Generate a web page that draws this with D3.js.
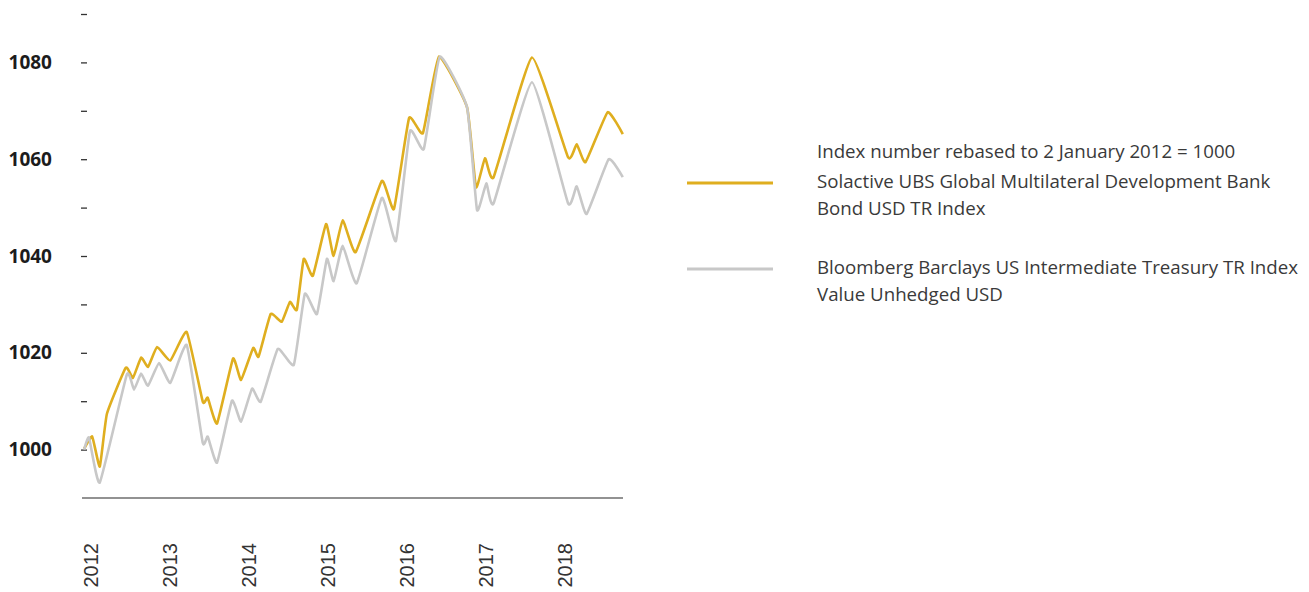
<!DOCTYPE html>
<html>
<head>
<meta charset="utf-8">
<script src="https://cdn.jsdelivr.net/npm/d3@7"></script>
<style>
	body { margin: 0; background: #fff; }
	svg { display: block; }
	.y-axis text { font-family: "Open Sans", sans-serif; font-weight: bold; font-size: 19px; fill: #1c1c1c; }
	.x-axis text { font-family: "Liberation Sans", Arial, sans-serif; font-size: 20px; fill: #333; }
	.legend text { font-family: "Open Sans", sans-serif; font-size: 18.7px; fill: #3a3a3a; }
</style>
</head>
<body>
<svg width="1309" height="592"></svg>
<script>
'use strict';

// Solactive UBS Global Multilateral Development Bank Bond USD TR Index
var goldDates = ['2012-01-02', '2012-02-08', '2012-03-14', '2012-04-16', '2012-07-12', '2012-08-14',
	'2012-09-21', '2012-10-23', '2012-12-04', '2013-02-03', '2013-04-20', '2013-07-03', '2013-07-26',
	'2013-09-07', '2013-11-20', '2013-12-27', '2014-02-21', '2014-03-18', '2014-05-13', '2014-07-03',
	'2014-08-10', '2014-09-11', '2014-10-13', '2014-11-24', '2015-01-24', '2015-02-28', '2015-04-11',
	'2015-06-10', '2015-10-09', '2015-12-04', '2016-02-12', '2016-04-16', '2016-06-29', '2016-11-06',
	'2016-12-17', '2017-01-28', '2017-03-09', '2017-09-02', '2018-02-16', '2018-03-28', '2018-05-08',
	'2018-08-18', '2018-10-27'];
var goldValues = [1000.2, 1002.7, 996.5, 1007.4, 1016.9, 1014.8,
	1019.0, 1017.1, 1021.2, 1018.4, 1024.3, 1009.9, 1010.7,
	1005.4, 1018.8, 1014.4, 1021.0, 1019.2, 1028.0, 1026.4,
	1030.5, 1028.9, 1039.4, 1035.9, 1046.6, 1040.0, 1047.4,
	1040.8, 1055.5, 1049.7, 1068.5, 1065.4, 1081.2, 1070.7,
	1054.2, 1060.2, 1056.3, 1081.0, 1060.4, 1063.1, 1059.4,
	1069.7, 1065.2];

// Bloomberg Barclays US Intermediate Treasury TR Index Value Unhedged USD
var grayDates = ['2012-01-02', '2012-01-24', '2012-03-14', '2012-07-17', '2012-08-19', '2012-09-21',
	'2012-10-23', '2012-12-13', '2013-02-03', '2013-04-20', '2013-07-03', '2013-07-26', '2013-09-07',
	'2013-11-15', '2013-12-27', '2014-02-16', '2014-03-28', '2014-06-15', '2014-08-28', '2014-10-18',
	'2014-12-13', '2015-01-28', '2015-02-28', '2015-04-11', '2015-06-15', '2015-10-09', '2015-12-13',
	'2016-02-16', '2016-04-20', '2016-07-03', '2016-11-06', '2016-12-22', '2017-02-03', '2017-03-09',
	'2017-09-02', '2018-02-16', '2018-03-28', '2018-05-13', '2018-08-23', '2018-10-27'];
var grayValues = [1000.0, 1002.5, 993.2, 1015.5, 1012.4, 1015.7,
	1013.2, 1017.9, 1013.8, 1021.6, 1001.4, 1002.7, 997.3,
	1010.1, 1005.8, 1012.6, 1009.9, 1020.8, 1017.5, 1032.2,
	1028.0, 1039.4, 1034.8, 1042.1, 1034.4, 1052.0, 1043.1,
	1065.8, 1062.1, 1081.2, 1070.7, 1049.5, 1055.0, 1050.9,
	1075.9, 1050.9, 1054.4, 1048.7, 1060.0, 1056.3];

var yTicks = [1000, 1010, 1020, 1030, 1040, 1050, 1060, 1070, 1080, 1090];
var yearTicks = ['2012', '2013', '2014', '2015', '2016', '2017', '2018'];

var legendTitle = 'Index number rebased to 2 January 2012 = 1000';
var seriesNames = [
	['Solactive UBS Global Multilateral Development Bank', 'Bond USD TR Index'],
	['Bloomberg Barclays US Intermediate Treasury TR Index', 'Value Unhedged USD']
];
var seriesColors = ['#dfae1f', '#c8c8c8'];

var parseDate = d3.timeParse('%Y-%m-%d');
var svg = d3.select('svg');

var x = d3.scaleTime()
	.domain([parseDate('2012-01-01'), parseDate('2018-10-28')])
	.range([84, 623]);
var y = d3.scaleLinear()
	.domain([990, 1090])
	.range([498, 14]);

/**
 * Turn a pair of date / value arrays into point objects
 */
function toPoints(dates, values) {
	return dates.map(function (d, i) {
		return { date: parseDate(d), value: values[i] };
	});
}

var series = [toPoints(goldDates, goldValues), toPoints(grayDates, grayValues)];

// y axis: short dashes, bold labels on every second tick
var yAxis = svg.append('g')
	.attr('class', 'y-axis')
	.attr('transform', 'translate(87,0)')
	.call(d3.axisLeft(y)
		.tickValues(yTicks)
		.tickSize(6)
		.tickPadding(29)
		.tickFormat(function (d) { return d % 20 === 0 ? d : ''; }));
yAxis.select('.domain').remove();
yAxis.selectAll('.tick line').attr('stroke', '#333').attr('stroke-width', 1.3);

// x axis: baseline plus rotated year labels
var xAxis = svg.append('g')
	.attr('class', 'x-axis')
	.attr('transform', 'translate(0,' + y(990) + ')')
	.call(d3.axisBottom(x)
		.tickValues(yearTicks.map(function (t) { return parseDate(t + '-01-01'); }))
		.tickSize(0)
		.tickFormat(d3.timeFormat('%Y')));
xAxis.select('.domain')
	.attr('d', 'M' + (x.range()[0] - 2) + ',0H' + x.range()[1])
	.attr('stroke', '#6e6e6e')
	.attr('stroke-width', 1.6);
xAxis.selectAll('.tick text')
	.attr('transform', 'rotate(-90)')
	.attr('text-anchor', 'end')
	.attr('x', -45)
	.attr('y', 6)
	.attr('dy', '0.35em');

// lines: tight cardinal spline, nearly straight runs with rounded turns
var line = d3.line()
	.x(function (d) { return x(d.date); })
	.y(function (d) { return y(d.value); })
	.curve(d3.curveCardinal.tension(0.6));

svg.append('g')
	.attr('class', 'lines')
	.selectAll('path')
	.data(series)
	.enter()
	.append('path')
	.attr('fill', 'none')
	.attr('stroke', function (d, i) { return seriesColors[i]; })
	.attr('stroke-width', 2.6)
	.attr('stroke-linejoin', 'round')
	.attr('d', line);

// legend
var legend = svg.append('g').attr('class', 'legend');
legend.append('text')
	.attr('x', 817)
	.attr('y', 151)
	.attr('dy', '0.35em')
	.text(legendTitle);

var entry = legend.selectAll('g.entry')
	.data(seriesNames)
	.enter()
	.append('g')
	.attr('class', 'entry')
	.attr('transform', function (d, i) { return 'translate(0,' + (183 + i * 86) + ')'; });
entry.append('line')
	.attr('x1', 687)
	.attr('x2', 773)
	.attr('stroke', function (d, i) { return seriesColors[i]; })
	.attr('stroke-width', 2.8);
entry.selectAll('text')
	.data(function (d) { return d; })
	.enter()
	.append('text')
	.attr('x', 817)
	.attr('y', function (d, i) { return -2 + i * 27; })
	.attr('dy', '0.35em')
	.text(function (d) { return d; });
</script>
</body>
</html>
